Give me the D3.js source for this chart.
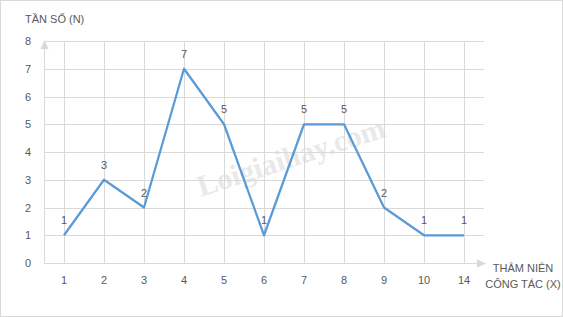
<!DOCTYPE html>
<html>
  <head>
    <meta charset="utf-8">
    <title>Tần số theo thâm niên công tác</title>
    <script src="https://d3js.org/d3.v7.min.js"></script>
    <style>
      body { margin: 0; background: #fff; }
      svg text { font-family: "Liberation Sans", Arial, sans-serif; font-size: 11px; fill: #595959; }
    </style>
  </head>
  <body>
    <svg id="svg" width="563" height="317"></svg>
    <script>
      // data
      var categories = ["1", "2", "3", "4", "5", "6", "7", "8", "9", "10", "14"];
      var counts = [1, 3, 2, 7, 5, 1, 5, 5, 2, 1, 1];
      var yTicks = [0, 1, 2, 3, 4, 5, 6, 7, 8];

      var svg = d3.select("#svg");
      var plotLeft = 44, plotRight = 484, plotTop = 41, plotBottom = 263;

      // frame
      svg.append("rect")
        .attr("x", 0.5).attr("y", 0.5)
        .attr("width", 562).attr("height", 316)
        .attr("fill", "#fff").attr("stroke", "#d9d9d9");

      var x = d3.scaleBand().domain(categories).range([plotLeft, plotRight]);
      var y = d3.scaleLinear().domain([0, 8]).range([plotBottom, plotTop]);
      var cx = function(d) { return x(d) + x.bandwidth() / 2; };

      // watermark
      svg.append("text")
        .attr("transform", "translate(292,160) rotate(-18)")
        .attr("text-anchor", "middle")
        .attr("dominant-baseline", "middle")
        .style("font-family", "'Liberation Serif', serif")
        .style("font-weight", "bold")
        .style("font-size", "30px")
        .style("fill", "#e9e9e9")
        .text("Loigiaihay.com");

      // grid
      svg.append("g").selectAll("line")
          .data(yTicks.slice(1))
        .enter().append("line")
          .attr("x1", plotLeft).attr("x2", plotRight)
          .attr("y1", function(d) { return Math.round(y(d)) + 0.5; })
          .attr("y2", function(d) { return Math.round(y(d)) + 0.5; })
          .attr("stroke", "#d9d9d9");
      svg.append("g").selectAll("line")
          .data(categories)
        .enter().append("line")
          .attr("x1", function(d) { return Math.round(cx(d)) + 0.5; })
          .attr("x2", function(d) { return Math.round(cx(d)) + 0.5; })
          .attr("y1", plotTop).attr("y2", plotBottom)
          .attr("stroke", "#d9d9d9");

      // axes with arrows
      svg.append("line")
        .attr("x1", plotLeft + 0.5).attr("x2", plotLeft + 0.5)
        .attr("y1", plotBottom).attr("y2", plotTop + 6)
        .attr("stroke", "#d9d9d9");
      svg.append("path")
        .attr("d", "M" + (plotLeft + 0.5) + "," + (plotTop - 1) + " l-4,9 h8 z")
        .attr("fill", "#d9d9d9");
      svg.append("line")
        .attr("x1", plotLeft).attr("x2", plotRight - 6)
        .attr("y1", plotBottom + 0.5).attr("y2", plotBottom + 0.5)
        .attr("stroke", "#d9d9d9");
      svg.append("path")
        .attr("d", "M" + (plotRight + 2) + "," + (plotBottom + 0.5) + " l-9,-4 v8 z")
        .attr("fill", "#d9d9d9");

      // tick labels
      svg.append("g").selectAll("text")
          .data(yTicks)
        .enter().append("text")
          .attr("x", 31)
          .attr("y", function(d) { return y(d) + 4; })
          .attr("text-anchor", "end")
          .text(function(d) { return d; });
      svg.append("g").selectAll("text")
          .data(categories)
        .enter().append("text")
          .attr("x", cx)
          .attr("y", 284)
          .attr("text-anchor", "middle")
          .text(function(d) { return d; });

      // axis titles
      svg.append("text").attr("x", 25).attr("y", 23).text("TẦN SỐ (N)");
      svg.append("text").attr("x", 523).attr("y", 272).attr("text-anchor", "middle").text("THÂM NIÊN");
      svg.append("text").attr("x", 523).attr("y", 288).attr("text-anchor", "middle").text("CÔNG TÁC (X)");

      // line
      var line = d3.line()
        .x(function(d, i) { return cx(categories[i]); })
        .y(function(d) { return y(d); });
      svg.append("path")
        .datum(counts)
        .attr("d", line)
        .attr("fill", "none")
        .attr("stroke", "#5b9bd5")
        .attr("stroke-width", 2.25)
        .attr("stroke-linejoin", "round");

      // data labels
      svg.append("g").selectAll("text")
          .data(counts)
        .enter().append("text")
          .attr("x", function(d, i) { return cx(categories[i]); })
          .attr("y", function(d) { return y(d) - 11; })
          .attr("text-anchor", "middle")
          .text(function(d) { return d; });
    </script>
  </body>
</html>
